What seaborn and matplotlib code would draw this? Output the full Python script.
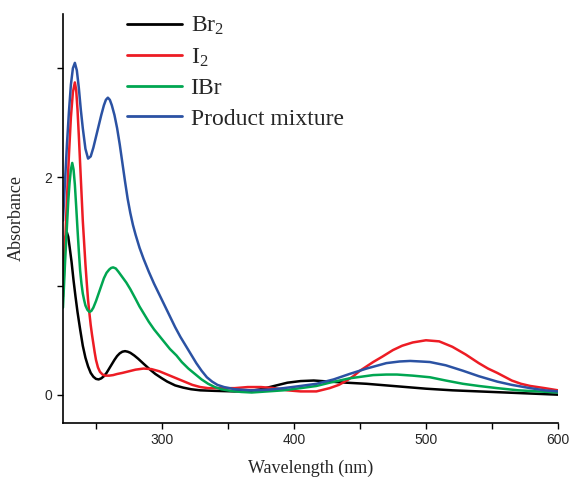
import matplotlib
matplotlib.use('Agg')
import matplotlib.pyplot as plt
import seaborn as sns
import pandas as pd

# UV-vis spectra
br2_nm = [225, 226, 227, 228, 229, 230, 231.5, 233, 234.5, 236, 238, 240, 242, 244, 246, 248, 250, 252, 254, 256,
          258, 260, 262, 264, 266, 268, 270, 272, 274, 276, 279, 282, 286, 291, 295, 300, 304, 310, 316, 322,
          329, 340, 355, 367, 375, 385, 395, 405, 415, 427, 440, 455, 470, 485, 500, 520, 540, 560, 580, 600]
br2_abs = [1.0, 1.28, 1.45, 1.49, 1.45, 1.36, 1.22, 1.05, 0.9, 0.76, 0.6, 0.45, 0.34, 0.26, 0.2, 0.165, 0.145, 0.14, 0.15, 0.17,
           0.2, 0.24, 0.28, 0.32, 0.355, 0.38, 0.395, 0.4, 0.395, 0.385, 0.36, 0.33, 0.285, 0.23, 0.19, 0.15, 0.12, 0.085, 0.065, 0.05,
           0.04, 0.035, 0.03, 0.035, 0.05, 0.08, 0.11, 0.125, 0.13, 0.12, 0.11, 0.1, 0.085, 0.07, 0.055, 0.04, 0.03, 0.02, 0.01, 0.0]

i2_nm = [225, 226.5, 228, 229.5, 231, 232.5, 234, 235, 236, 237, 238, 239, 240, 241, 242, 243, 244, 245, 246, 247,
         248, 249, 250, 251.5, 253, 255, 257, 260, 263, 266, 270, 275, 280, 286, 292, 298, 305, 311, 317, 323,
         329, 335, 345, 355, 365, 375, 385, 395, 405, 417, 427, 434, 440, 445, 450, 455, 460, 467, 475, 482,
         490, 500, 510, 520, 530, 540, 547, 554, 565, 572, 579, 590, 600]
i2_abs = [0.9, 1.35, 1.8, 2.2, 2.55, 2.78, 2.87, 2.8, 2.62, 2.38, 2.12, 1.86, 1.6, 1.4, 1.2, 1.03, 0.87, 0.75, 0.64, 0.55,
          0.47, 0.39, 0.32, 0.25, 0.21, 0.185, 0.175, 0.175, 0.18, 0.19, 0.2, 0.215, 0.23, 0.24, 0.235, 0.215, 0.18, 0.15, 0.12, 0.09,
          0.07, 0.06, 0.06, 0.06, 0.07, 0.07, 0.06, 0.04, 0.03, 0.03, 0.06, 0.09, 0.13, 0.17, 0.22, 0.26, 0.3, 0.35, 0.41, 0.45,
          0.48, 0.5, 0.49, 0.44, 0.37, 0.29, 0.24, 0.2, 0.13, 0.1, 0.08, 0.06, 0.04]

ibr_nm = [225, 226.5, 228, 229, 230, 231, 232, 233, 234, 235, 236, 237, 238, 239, 240, 241, 242, 243.5, 245, 246.5,
          248, 250, 252, 254, 256, 258, 260, 261.5, 263, 265, 267, 270, 273, 276, 280, 283, 286, 290, 294, 298,
          302, 306, 311, 315, 320, 325, 330, 335, 340, 345, 352, 360, 368, 380, 392, 405, 417, 427, 442, 460,
          470, 478, 490, 503, 515, 528, 540, 554, 570, 585, 600]
ibr_abs = [0.8, 1.2, 1.55, 1.78, 1.95, 2.07, 2.13, 2.07, 1.93, 1.73, 1.52, 1.32, 1.14, 1.02, 0.93, 0.87, 0.82, 0.78, 0.76, 0.77,
           0.8, 0.86, 0.93, 1.0, 1.07, 1.12, 1.15, 1.165, 1.17, 1.16, 1.13, 1.08, 1.03, 0.97, 0.88, 0.81, 0.75, 0.67, 0.6, 0.54,
           0.48, 0.42, 0.36, 0.3, 0.24, 0.19, 0.14, 0.1, 0.07, 0.05, 0.035, 0.025, 0.02, 0.03, 0.04, 0.06, 0.08, 0.11, 0.15, 0.18,
           0.185, 0.185, 0.175, 0.16, 0.13, 0.1, 0.08, 0.06, 0.04, 0.03, 0.02]

mix_nm = [225, 226.5, 228, 229.5, 231, 232.5, 234, 235.5, 237, 238.5, 240, 242, 244, 246, 248, 250, 252, 254, 256, 257.5,
          259, 260.5, 262, 264, 266, 268, 270, 272, 274, 276, 278, 280, 283, 286, 290, 294, 298, 302, 306, 310,
          314, 318, 322, 326, 330, 334, 338, 342, 347, 355, 367, 380, 392, 405, 417, 430, 442, 455, 470, 480,
          488, 496, 503, 515, 528, 540, 554, 565, 579, 590, 600]
mix_abs = [1.6, 1.95, 2.3, 2.6, 2.85, 3.0, 3.05, 2.98, 2.82, 2.62, 2.45, 2.26, 2.17, 2.19, 2.27, 2.37, 2.47, 2.57, 2.66, 2.71,
           2.73, 2.71, 2.66, 2.57, 2.45, 2.3, 2.13, 1.96, 1.8, 1.67, 1.56, 1.47, 1.35, 1.25, 1.13, 1.02, 0.92, 0.82, 0.72, 0.62,
           0.53, 0.45, 0.37, 0.29, 0.22, 0.16, 0.12, 0.09, 0.07, 0.05, 0.04, 0.045, 0.06, 0.08, 0.1, 0.14, 0.19, 0.24, 0.29, 0.305,
           0.31, 0.305, 0.3, 0.27, 0.22, 0.17, 0.12, 0.09, 0.06, 0.04, 0.03]

labels = [r'$\mathregular{Br_2}$', r'$\mathregular{I_2}$', 'IBr', 'Product mixture']
colors = ['#000000', '#ED1C24', '#00A651', '#2B52A3']

frames = []
for lab, x, y in zip(labels, [br2_nm, i2_nm, ibr_nm, mix_nm], [br2_abs, i2_abs, ibr_abs, mix_abs]):
    frames.append(pd.DataFrame({'Wavelength': x, 'Absorbance': y, 'Sample': lab}))
df = pd.concat(frames, ignore_index=True)

sns.set_style('ticks')
plt.rcParams['font.family'] = ['Liberation Serif', 'DejaVu Serif']
plt.rcParams['mathtext.fontset'] = 'custom'
plt.rcParams['mathtext.rm'] = 'Liberation Serif'

fig = plt.figure(figsize=(5.8, 4.79), dpi=100)
ax = fig.add_axes([0.1086, 0.117, 0.8534, 0.854])

sns.lineplot(data=df, x='Wavelength', y='Absorbance', hue='Sample', palette=colors,
             sort=False, linewidth=1.8, ax=ax)
for ln in ax.get_lines():
    ln.set_solid_joinstyle('round')

ax.set_xlim(225, 600)
ax.set_ylim(-0.26, 3.5)
ax.set_xticks(range(250, 601, 50))
ax.set_xticklabels(['' if v % 100 else str(v) for v in range(250, 601, 50)])
ax.set_yticks([0, 1, 2, 3])
ax.set_yticklabels(['0', '', '2', ''])
ax.tick_params(direction='out', length=4, width=1, labelsize=10, color='black')
for t in ax.get_xticklabels() + ax.get_yticklabels():
    t.set_fontfamily('Liberation Sans')
sns.despine(ax=ax)
for s in ['left', 'bottom']:
    ax.spines[s].set_linewidth(1.2)
    ax.spines[s].set_color('black')

ax.set_xlabel('Wavelength (nm)', fontsize=13, labelpad=9)
ax.set_ylabel('Absorbance', fontsize=13, labelpad=14)

leg = ax.legend(title=None, loc='upper left', bbox_to_anchor=(0.129, 0.997), frameon=False,
                fontsize=17, handlelength=2.35, labelspacing=0.38, handletextpad=0.35,
                borderpad=0, borderaxespad=0)
for ln in leg.get_lines():
    ln.set_linewidth(2.0)

plt.savefig('out.png', dpi=100)
